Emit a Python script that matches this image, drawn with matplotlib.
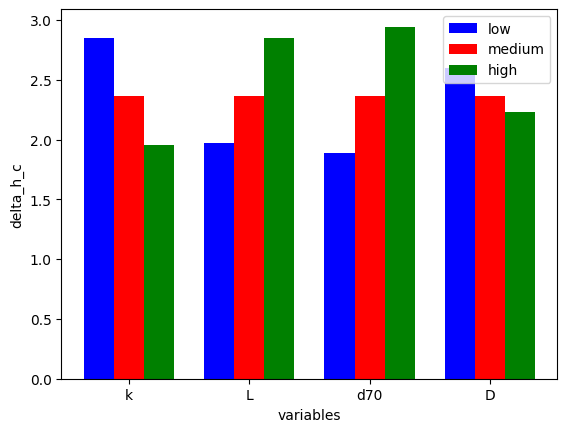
import matplotlib
matplotlib.use("Agg")
import matplotlib.pyplot as plt
import numpy as np

categories = ["k", "L", "d70", "D"]
low = [2.852, 1.969, 1.886, 2.602]
medium = [2.36, 2.36, 2.36, 2.36]
high = [1.953, 2.852, 2.943, 2.227]

x = np.arange(len(categories))
w = 0.25
fig, ax = plt.subplots(figsize=(6.4, 4.8), dpi=100)
ax.bar(x - w, low, w, color="blue", label="low")
ax.bar(x, medium, w, color="red", label="medium")
ax.bar(x + w, high, w, color="green", label="high")
ax.set_xticks(x)
ax.set_xticklabels(categories)
ax.set_xlabel("variables")
ax.set_ylabel("delta_h_c")
ax.legend(loc="upper right")
fig.savefig("out.png", bbox_inches="tight")
